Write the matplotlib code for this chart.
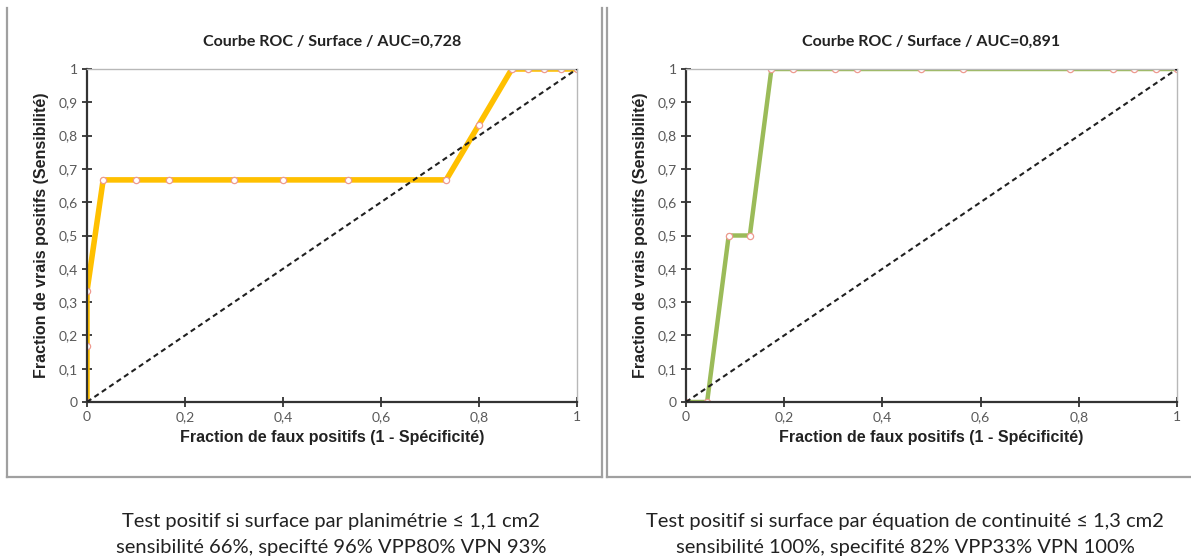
import matplotlib
matplotlib.use("Agg")
import matplotlib.pyplot as plt
from matplotlib.lines import Line2D

# ---- data ----
left_fpr = [0, 0, 0, 0.033, 0.1, 0.167, 0.3, 0.4, 0.533, 0.733, 0.8, 0.867, 0.9, 0.933, 0.967, 1.0]
left_tpr = [0, 0.167, 0.333, 0.667, 0.667, 0.667, 0.667, 0.667, 0.667, 0.667, 0.833, 1.0, 1.0, 1.0, 1.0, 1.0]
right_fpr = [0, 0.043, 0.087, 0.13, 0.174, 0.217, 0.304, 0.348, 0.478, 0.565, 0.783, 0.870, 0.913, 0.957, 1.0]
right_tpr = [0, 0, 0.5, 0.5, 1, 1, 1, 1, 1, 1, 1, 1, 1, 1, 1]
titles = ["Courbe ROC / Surface / AUC=0,728", "Courbe ROC / Surface / AUC=0,891"]
xlabel = "Fraction de faux positifs (1 - Spécificité)"
ylabel = "Fraction de vrais positifs (Sensibilité)"
yticks = [0, 0.1, 0.2, 0.3, 0.4, 0.5, 0.6, 0.7, 0.8, 0.9, 1]
ytick_labels = ["0", "0,1", "0,2", "0,3", "0,4", "0,5", "0,6", "0,7", "0,8", "0,9", "1"]
xticks = [0, 0.2, 0.4, 0.6, 0.8, 1]
xtick_labels = ["0", "0,2", "0,4", "0,6", "0,8", "1"]
captions = [
    ["Test positif si surface par planimétrie ≤ 1,1 cm2",
     "sensibilité 66%, specifté 96% VPP80% VPN 93%"],
    ["Test positif si surface par équation de continuité ≤ 1,3 cm2",
     "sensibilité 100%, specifité 82% VPP33% VPN 100%"],
]

W, H = 1191, 560
fig = plt.figure(figsize=(W / 100, H / 100), dpi=100)

def fx(px):
    return px / W

def fy(py):
    return 1 - py / H

panels = [
    dict(ax=(87, 577), fpr=left_fpr, tpr=left_tpr, color="#ffc000", lw=4.0, title=titles[0], cap=captions[0], capx=331),
    dict(ax=(686, 1177), fpr=right_fpr, tpr=right_tpr, color="#9bbb59", lw=3.2, title=titles[1], cap=captions[1], capx=905),
]

for p in panels:
    x0, x1 = p["ax"]
    y_top, y_bot = 69, 402
    ax = fig.add_axes([fx(x0), fy(y_bot), (x1 - x0) / W, (y_bot - y_top) / H])
    ax.plot([0, 1], [0, 1], ls=(0, (2.5, 1.8)), color="#202020", lw=1.5, zorder=3)
    ax.plot(p["fpr"], p["tpr"], color=p["color"], lw=p["lw"], zorder=2,
            marker="o", ms=4.5, mfc="white", mec="#ee9a90", mew=0.9)
    ax.set_xlim(0, 1)
    ax.set_ylim(0, 1)
    ax.set_xticks(xticks)
    ax.set_xticklabels(xtick_labels)
    ax.set_yticks(yticks)
    ax.set_yticklabels(ytick_labels)
    for s in ["top", "right"]:
        ax.spines[s].set_color("#b8b8b8")
        ax.spines[s].set_linewidth(1.0)
    for s in ["left", "bottom"]:
        ax.spines[s].set_color("#333333")
        ax.spines[s].set_linewidth(1.6)
    ax.tick_params(direction="inout", length=7, width=1.3, color="#333333",
                   labelsize=10, labelcolor="#595959", pad=3)
    for lab in ax.get_xticklabels() + ax.get_yticklabels():
        lab.set_family("Lato")
    ax.set_title(p["title"], fontsize=11.5, fontweight="bold", family="Lato", pad=17, color="#222222")
    ax.set_xlabel(xlabel, fontsize=11.5, fontweight="bold", family="Liberation Sans", labelpad=5, color="#222222")
    ax.set_ylabel(ylabel, fontsize=11.5, fontweight="bold", family="Liberation Sans", labelpad=7, color="#222222")
    for line, ypx in zip(p["cap"], [522, 548]):
        fig.text(fx(p["capx"]), fy(ypx), line, ha="center", va="center", fontsize=14.5,
                 family="Lato", color="#222222")

# panel frames
frame_kw = dict(color="#a0a0a0", lw=1.6, transform=fig.transFigure)
for (l, r) in [(7, 602), (607, 1195)]:
    fig.add_artist(Line2D([fx(l), fx(l)], [fy(8), fy(477)], **frame_kw))
    fig.add_artist(Line2D([fx(r), fx(r)], [fy(8), fy(477)], **frame_kw))
    fig.add_artist(Line2D([fx(l), fx(r)], [fy(477), fy(477)], **frame_kw))

fig.savefig("out.png", dpi=100)
